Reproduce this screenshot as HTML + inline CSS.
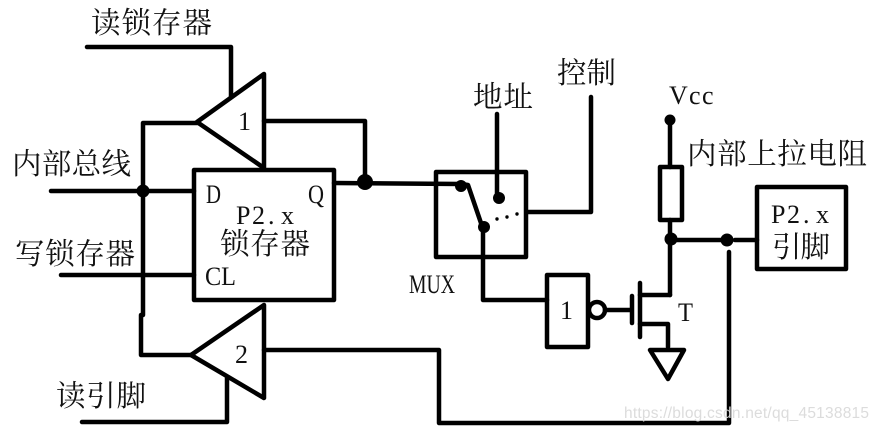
<!DOCTYPE html>
<html><head><meta charset="utf-8"><style>
html,body{margin:0;padding:0;background:#fff;width:877px;height:430px;overflow:hidden}
svg{display:block}
.c{font-family:"Liberation Serif","Noto Serif CJK SC",serif;font-size:29.5px;fill:#111}
.l{font-family:"Liberation Serif",serif;font-size:26px;fill:#111}
</style></head><body>
<svg width="877" height="430" viewBox="0 0 877 430" xmlns="http://www.w3.org/2000/svg">
<g fill="none" stroke="#000" stroke-width="4.5" stroke-linejoin="round" stroke-linecap="round">
<polyline points="87,47 231,47 231,97"/>
<polygon points="264,74 197,122 264,168"/>
<polyline points="264,121 365,121 365,182"/>
<polyline points="197,123 143,123 143,315 141,315 141,355 191,355"/>
<line x1="51" y1="191" x2="194" y2="191"/>
<rect x="194" y="170" width="140" height="130"/>
<line x1="61" y1="275" x2="194" y2="275"/>
<polygon points="264,305 191,355 264,398"/>
<polyline points="264,350 439,350 439,423 729,423 729,252"/>
<polyline points="82,422 227,422 227,378"/>
<line x1="334" y1="183" x2="461" y2="184"/>
<rect x="436" y="172" width="90" height="85"/>
<polyline points="461,184 468,185 482,226"/>
<polyline points="483,227 483,300 547,300"/>
<line x1="497" y1="114" x2="497" y2="198"/>
<polyline points="527,212 591,212 591,97"/>
<line x1="670" y1="120" x2="670" y2="167"/>
<rect x="660" y="167" width="22" height="53"/>
<line x1="670" y1="220" x2="670" y2="295"/>
<line x1="671" y1="240" x2="727" y2="240"/>
<line x1="735" y1="240" x2="757" y2="240"/>
<rect x="757" y="187" width="89" height="82"/>
<rect x="547" y="275" width="41" height="72"/>
<circle cx="597" cy="310" r="8"/>
<line x1="605" y1="310" x2="631" y2="310"/>
<line x1="632" y1="296" x2="632" y2="323"/>
<line x1="640" y1="283" x2="640" y2="337"/>
<line x1="640" y1="295" x2="670" y2="295"/>
<polyline points="640,324 668,324 668,347"/>
<polygon points="650,350 684,350 668,379"/>
</g>
<g fill="#000">
<circle cx="143" cy="191" r="6.5"/>
<circle cx="365" cy="182" r="8"/>
<circle cx="461" cy="186" r="6"/>
<circle cx="484" cy="227" r="6"/>
<circle cx="499" cy="198" r="6"/>
<circle cx="497" cy="219" r="1.7"/>
<circle cx="507" cy="217" r="1.7"/>
<circle cx="517" cy="214" r="1.7"/>
<circle cx="670" cy="120" r="5.5"/>
<circle cx="671" cy="239" r="6.5"/>
<circle cx="727" cy="240" r="6.5"/>
</g>
<text class="c" x="91" y="33" textLength="121" lengthAdjust="spacing">读锁存器</text>
<text class="c" x="12" y="174" textLength="119" lengthAdjust="spacing">内部总线</text>
<text class="c" x="15" y="264" textLength="120" lengthAdjust="spacing">写锁存器</text>
<text class="c" x="56" y="406" textLength="90" lengthAdjust="spacing">读引脚</text>
<text class="c" x="220" y="254" textLength="90" lengthAdjust="spacing">锁存器</text>
<text class="c" x="473" y="107" textLength="60" lengthAdjust="spacing">地址</text>
<text class="c" x="557" y="83" textLength="59" lengthAdjust="spacing">控制</text>
<text class="c" x="687" y="164" textLength="180" lengthAdjust="spacing">内部上拉电阻</text>
<text class="c" x="772" y="257" textLength="58" lengthAdjust="spacing">引脚</text>
<text class="l" x="206" y="203" textLength="15" lengthAdjust="spacingAndGlyphs">D</text>
<text class="l" x="308" y="203" textLength="16" lengthAdjust="spacingAndGlyphs">Q</text>
<text class="l" x="236 252 268 281" y="224">P2.x</text>
<text class="l" x="205" y="285" textLength="31" lengthAdjust="spacingAndGlyphs">CL</text>
<text class="l" x="238" y="130">1</text>
<text class="l" x="235" y="363">2</text>
<text class="l" x="409" y="293" textLength="46" lengthAdjust="spacingAndGlyphs">MUX</text>
<text class="l" x="560" y="319">1</text>
<text class="l" x="678" y="321" textLength="15" lengthAdjust="spacingAndGlyphs">T</text>
<text class="l" x="669 689 702" y="104">Vcc</text>
<text class="l" x="771 787 803 816" y="223">P2.x</text>
<text x="624" y="418" font-family="Liberation Sans,sans-serif" font-size="15.5" fill="#dcdcdc" textLength="245" lengthAdjust="spacing">https://blog.csdn.net/qq_45138815</text>
</svg>
</body></html>
